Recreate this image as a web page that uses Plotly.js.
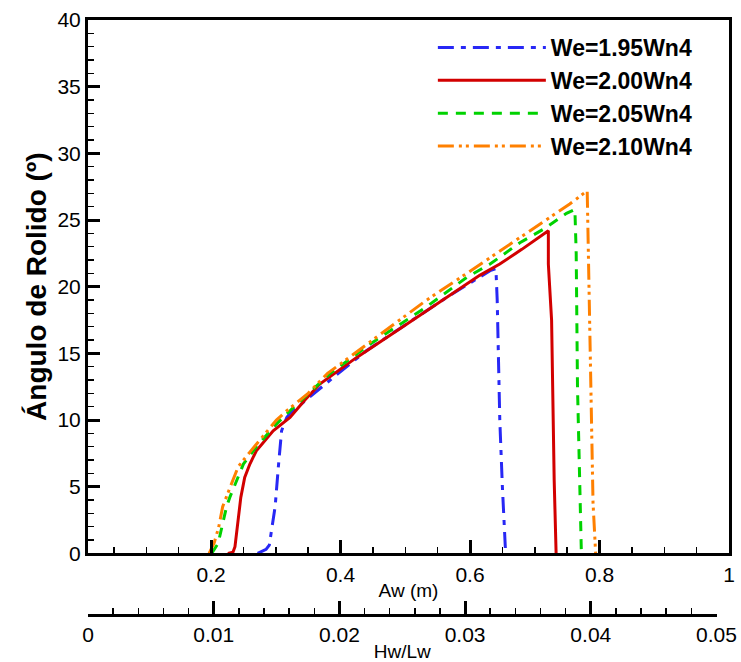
<!DOCTYPE html>
<html>
<head>
<meta charset="utf-8">
<script src="https://cdn.plot.ly/plotly-3.0.1.min.js"></script>
<style>html,body{margin:0;padding:0;background:#fff;}#chart{width:741px;height:662px;}</style>
</head>
<body>
<div id="chart"></div>
<script>
// Series names
var seriesNames = ['We=1.95Wn4', 'We=2.00Wn4', 'We=2.05Wn4', 'We=2.10Wn4'];

// We=1.95Wn4 (blue, dash-dot)
var xBlue = [0.272, 0.285, 0.290, 0.299, 0.304, 0.309, 0.317, 0.322, 0.384, 0.440, 0.502, 0.564, 0.631, 0.640, 0.642, 0.646, 0.650, 0.655];
var yBlue = [0, 0.3, 0.62, 3.5, 6.5, 9.2, 10.2, 10.5, 13.0, 15.2, 17.2, 19.2, 21.2, 21.35, 19.0, 10.0, 5.0, 0];

// We=2.00Wn4 (red, solid)
var xRed = [0.226, 0.234, 0.237, 0.242, 0.246, 0.252, 0.260, 0.270, 0.296, 0.322, 0.345, 0.368, 0.425, 0.487, 0.549, 0.615, 0.646, 0.680, 0.721, 0.721, 0.726, 0.728, 0.730, 0.733];
var yRed = [0, 0.1, 0.5, 2.5, 4.2, 5.7, 6.7, 7.7, 9.2, 10.2, 11.5, 12.7, 14.7, 16.7, 18.7, 20.85, 21.7, 22.8, 24.2, 21.7, 17.5, 9.5, 5.5, 0];

// We=2.05Wn4 (green, dashed)
var xGreen = [0.201, 0.211, 0.224, 0.229, 0.250, 0.270, 0.301, 0.322, 0.384, 0.446, 0.533, 0.595, 0.631, 0.677, 0.713, 0.749, 0.762, 0.764, 0.766, 0.770, 0.772];
var yGreen = [0, 0.75, 3.5, 4.2, 6.7, 8.0, 9.7, 10.7, 13.5, 15.7, 18.5, 20.7, 21.7, 23.3, 24.3, 25.5, 25.8, 22.5, 12.5, 3.8, 0];

// We=2.10Wn4 (orange, dash-dot-dot)
var xOrange = [0.197, 0.205, 0.212, 0.218, 0.229, 0.242, 0.260, 0.301, 0.317, 0.350, 0.380, 0.456, 0.533, 0.595, 0.641, 0.651, 0.713, 0.754, 0.781, 0.784, 0.788, 0.790, 0.793, 0.794];
var yOrange = [0, 0.8, 2.0, 3.5, 4.9, 6.5, 7.6, 10.0, 10.7, 12.0, 13.5, 16.2, 19.0, 21.0, 22.5, 22.8, 24.8, 26.2, 27.2, 20.0, 11.3, 3.8, 1.0, 0];

// Tick labels
var awTickVals = [0.2, 0.4, 0.6, 0.8, 1.0];
var awTickText = ['0.2', '0.4', '0.6', '0.8', '1'];
var hwTickVals = [0, 0.01, 0.02, 0.03, 0.04, 0.05];
var hwTickText = ['0', '0.01', '0.02', '0.03', '0.04', '0.05'];
var rollTickVals = [0, 5, 10, 15, 20, 25, 30, 35, 40];

var FONT = 'Liberation Sans, Arial, Helvetica, sans-serif';

var traces = [
  {x: xBlue, y: yBlue, name: seriesNames[0], mode: 'lines', line: {color: 'rgb(40,40,245)', width: 3, dash: '16px,7px,5px,7px'}},
  {x: xRed, y: yRed, name: seriesNames[1], mode: 'lines', line: {color: 'rgb(210,0,0)', width: 3, dash: 'solid'}},
  {x: xGreen, y: yGreen, name: seriesNames[2], mode: 'lines', line: {color: 'rgb(0,210,0)', width: 3, dash: '10px,8px'}},
  {x: xOrange, y: yOrange, name: seriesNames[3], mode: 'lines', line: {color: 'rgb(255,128,0)', width: 3, dash: '16px,5px,3px,4px,3px,5px'}},
  {x: [], y: [], xaxis: 'x2', yaxis: 'y2', showlegend: false, hoverinfo: 'skip', mode: 'lines'}
];

var layout = {
  width: 741, height: 662,
  margin: {l: 88, r: 12, t: 20, b: 48, pad: 0},
  paper_bgcolor: 'white', plot_bgcolor: 'rgba(0,0,0,0)',
  font: {family: FONT, size: 21, color: 'black'},
  showlegend: true,
  legend: {
    x: 0.538, y: 0.99, xanchor: 'left', yanchor: 'top',
    font: {family: FONT, size: 23, color: 'black', weight: 'bold'},
    itemwidth: 108, bgcolor: 'rgba(0,0,0,0)', borderwidth: 0
  },
  xaxis: {
    domain: [0, 1], anchor: 'y',
    range: [0.01, 1.0],
    tickmode: 'array', tickvals: awTickVals, ticktext: awTickText,
    ticks: 'inside', ticklen: 12, tickwidth: 3, tickcolor: 'black',
    minor: {tick0: 0, dtick: 0.05, ticks: 'inside', ticklen: 6, tickwidth: 1.5, tickcolor: 'black', showgrid: false},
    showline: true, linewidth: 3, linecolor: 'black', mirror: true,
    showgrid: false, zeroline: false,
    tickfont: {family: FONT, size: 21, color: 'black'},
    title: {text: 'Aw (m)', font: {family: FONT, size: 19, color: 'black'}, standoff: 0}
  },
  yaxis: {
    domain: [0.102, 1], anchor: 'x',
    range: [0, 40],
    tickmode: 'array', tickvals: rollTickVals,
    ticks: 'inside', ticklen: 11, tickwidth: 3, tickcolor: 'black',
    minor: {tick0: 0, dtick: 1, ticks: 'inside', ticklen: 6, tickwidth: 1.5, tickcolor: 'black', showgrid: false},
    showline: true, linewidth: 3, linecolor: 'black', mirror: true,
    showgrid: false, zeroline: false,
    tickfont: {family: FONT, size: 21, color: 'black'},
    title: {text: 'Ángulo de Rolido (º)', font: {family: FONT, size: 28, color: 'black', weight: 'bold'}, standoff: 3}
  },
  xaxis2: {
    domain: [0, 0.9805], anchor: 'y2',
    range: [0, 0.05],
    tickmode: 'array', tickvals: hwTickVals, ticktext: hwTickText,
    ticks: 'inside', ticklen: 13, tickwidth: 3, tickcolor: 'black',
    minor: {tick0: 0, dtick: 0.002, ticks: 'inside', ticklen: 6, tickwidth: 1.5, tickcolor: 'black', showgrid: false},
    showline: true, linewidth: 3, linecolor: 'black',
    showgrid: false, zeroline: false,
    tickfont: {family: FONT, size: 21, color: 'black'},
    title: {text: 'Hw/Lw', font: {family: FONT, size: 19, color: 'black'}, standoff: 0}
  },
  yaxis2: {
    domain: [0, 0.03], anchor: 'x2', range: [0, 1], visible: false
  }
};

Plotly.newPlot('chart', traces, layout, {displayModeBar: false, staticPlot: true}).then(function (gd) {
  // force a second axis pass so the inside ticks of the main axes are redrawn
  gd.querySelectorAll('g.xaxislayer-above, g.yaxislayer-above').forEach(function (l) { l.getBBox(); });
  return Plotly.relayout(gd, {'xaxis.ticklen': 13, 'yaxis.ticklen': 12});
});
</script>
</body>
</html>
